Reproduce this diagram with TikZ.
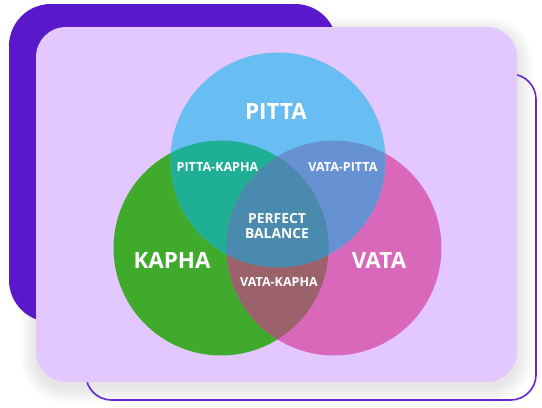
\documentclass[tikz,border=0pt]{standalone}
\usepackage{fontspec}
\setmainfont{Open Sans}
\definecolor{backcard}{HTML}{5A18CA}
\definecolor{frontcard}{HTML}{E2C8FE}
\definecolor{outlinecard}{HTML}{6526D6}
\definecolor{pittacol}{HTML}{68BDF3}
\definecolor{kaphacol}{HTML}{40AA2D}
\definecolor{vatacol}{HTML}{D968BA}
\definecolor{pkcol}{HTML}{1FAF95}
\definecolor{vpcol}{HTML}{6692D4}
\definecolor{vkcol}{HTML}{9C626B}
\definecolor{balcol}{HTML}{4A8AAE}
\begin{document}
\begin{tikzpicture}[x=0.75pt,y=-0.75pt,
  dosha/.style={text=white,font=\bfseries\fontsize{16.8}{18}\selectfont},
  mix/.style={text=white,font=\bfseries\fontsize{9.4}{11.5}\selectfont,align=center},
  centre/.style={mix,font=\bfseries\fontsize{10.4}{11.6}\selectfont}]
\useasboundingbox (0,0) rectangle (542,407);
\fill[white] (0,0) rectangle (542,407);

\foreach \s in {2,4,...,16}
  \fill[black,opacity=0.01,rounded corners=22.5pt+0.75pt*\s] (36-\s,27-\s+5) rectangle (517+\s,382+\s+5);

\fill[backcard,rounded corners=31.5pt] (9,4) rectangle (337,322);
\draw[outlinecard,line width=1.2pt,rounded corners=19pt] (86,74) rectangle (536,400);
\fill[frontcard,rounded corners=22.5pt] (36,27) rectangle (517,382);

\coordinate (pitta) at (278,160);
\coordinate (kapha) at (221,248);
\coordinate (vata) at (334,248);

\fill[kaphacol] (kapha) circle[radius=80.6pt];
\fill[vatacol] (vata) circle[radius=80.6pt];
\fill[pittacol] (pitta) circle[radius=80.6pt];

\begin{scope}
\clip (pitta) circle[radius=80.6pt];
\fill[pkcol] (kapha) circle[radius=80.6pt];
\fill[vpcol] (vata) circle[radius=80.6pt];
\end{scope}
\begin{scope}
\clip (kapha) circle[radius=80.6pt];
\fill[vkcol] (vata) circle[radius=80.6pt];
\clip (vata) circle[radius=80.6pt];
\fill[balcol] (pitta) circle[radius=80.6pt];
\end{scope}

\node[dosha] (pittalbl) at (276,111) {PITTA};
\node[dosha] (kaphalbl) at (172,260) {KAPHA};
\node[dosha] (vatalbl) at (379,260) {VATA};
\node[mix] (pklbl) at (217.5,167.5) {PITTA-KAPHA};
\node[mix] (vplbl) at (343,167.5) {VATA-PITTA};
\node[centre] (balancelbl) at (277,226) {PERFECT\\BALANCE};
\node[mix] (vklbl) at (279,282) {VATA-KAPHA};
\end{tikzpicture}
\end{document}
